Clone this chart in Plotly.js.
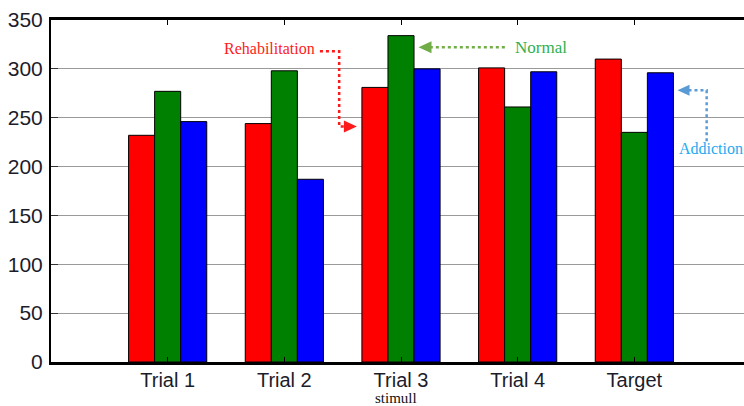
<!DOCTYPE html>
<html>
<head>
<meta charset="utf-8">
<script src="https://cdn.plot.ly/plotly-3.0.1.min.js"></script>
<style>
html,body{margin:0;padding:0;overflow:hidden;background:#fff;}
#chart{width:751px;height:406px;}
</style>
</head>
<body>
<div id="chart"></div>
<script>
// ---- data ----
const categories = ["Trial 1", "Trial 2", "Trial 3", "Trial 4", "Target"];
const rehabilitation = [232, 244, 281, 301, 310];
const normal = [277, 298, 334, 261, 235];
const addiction = [246, 187, 300, 297, 296];
const yTicks = [0, 50, 100, 150, 200, 250, 300, 350];
const xTitle = "stimull";

const xPos = categories.map((c, i) => i + 1);

// geometry helpers (layout)
const W = 751, H = 406, ML = 51, MR = 0, MT = 20, MB = 44;
const XR = [0, 6], YR = [0, 350];
const pxX = (W - ML - MR) / (XR[1] - XR[0]);   // px per x unit
const pxY = (H - MT - MB) / (YR[1] - YR[0]);   // px per y unit
const dx = p => p / pxX;
const dy = p => p / pxY;

const tickFontX = {family: "'Liberation Sans', Arial, sans-serif", size: 20, color: "#1c1c2a"};
const tickFontY = {family: "'Liberation Sans', Arial, sans-serif", size: 21, color: "#1c1c2a"};

const barLine = {color: "#000", width: 1};
const traces = [
  {type: "bar", name: "Rehabilitation", x: xPos, y: rehabilitation, marker: {color: "#ff0000", line: barLine}},
  {type: "bar", name: "Normal", x: xPos, y: normal, marker: {color: "#008000", line: barLine}},
  {type: "bar", name: "Addiction", x: xPos, y: addiction, marker: {color: "#0000ff", line: barLine}}
];

// annotation anchor points (data coords)
const rehabText = {x: 1.875, y: 321};
const normalText = {x: 3.96, y: 322};
const addText = {x: 5.365, y: 218};

function dotted(path, color) {
  return {type: "path", xref: "x", yref: "y", path: path,
          line: {color: color, width: 2.5, dash: "dot"}, layer: "above"};
}
function arrowHead(tipX, tipY, dir, len, half, color) {
  // dir: +1 points right, -1 points left
  const bx = tipX - dir * dx(len);
  const p = `M ${tipX} ${tipY} L ${bx} ${tipY + dy(half)} L ${bx} ${tipY - dy(half)} Z`;
  return {type: "path", xref: "x", yref: "y", path: p,
          fillcolor: color, line: {color: color, width: 0}, layer: "above"};
}

// Rehabilitation arrow: right, down, right
const rA = {x1: 2.305, y1: 318, x2: 2.47, y2: 241, xt: 2.622};
// Normal arrow: leftwards
const nA = {xs: 3.89, y: 322, xt: 3.15};
// Addiction arrow: up then left
const aA = {x: 5.62, ys: 226, y2: 278, xt: 5.37};

const redC = "#ff1a1a", greenArrow = "#70ad47", greenText = "#2fb04f", blueArrow = "#5b9bd5", blueText = "#1eaaf0";

const shapes = [
  dotted(`M ${rA.x1} ${rA.y1} L ${rA.x2} ${rA.y1} L ${rA.x2} ${rA.y2} L ${rA.xt - dx(10)} ${rA.y2}`, redC),
  arrowHead(rA.xt, rA.y2, 1, 13, 6, redC),
  dotted(`M ${nA.xs} ${nA.y} L ${nA.xt + dx(10)} ${nA.y}`, greenArrow),
  arrowHead(nA.xt, nA.y, -1, 13, 6, greenArrow),
  dotted(`M ${aA.x} ${aA.ys} L ${aA.x} ${aA.y2} L ${aA.xt + dx(10)} ${aA.y2}`, blueArrow),
  arrowHead(aA.xt, aA.y2, -1, 12, 5.5, blueArrow)
];

const serif = "'Liberation Serif', 'DejaVu Serif', serif";
const annotations = [
  {x: rehabText.x, y: rehabText.y, xref: "x", yref: "y", text: "Rehabilitation", showarrow: false,
   font: {family: serif, size: 16, color: redC}},
  {x: normalText.x, y: normalText.y, xref: "x", yref: "y", text: "Normal", showarrow: false, xanchor: "left",
   font: {family: serif, size: 17, color: greenText}},
  {x: addText.x, y: addText.y, xref: "x", yref: "y", text: "Addiction", showarrow: false, xanchor: "left",
   font: {family: serif, size: 16, color: blueText}},
  // x-axis title
  {x: 2.957, y: -0.106, xref: "x", yref: "paper", yanchor: "middle", text: xTitle, showarrow: false,
   font: {family: serif, size: 15, color: "#111"}}
];

const layout = {
  width: W, height: H,
  margin: {l: ML, r: MR, t: MT, b: MB, pad: 0},
  paper_bgcolor: "#fff", plot_bgcolor: "#fff",
  showlegend: false,
  barmode: "group", bargap: 0.33, bargroupgap: 0,
  xaxis: {
    range: XR, tickvals: xPos, ticktext: categories,
    showgrid: false, zeroline: false,
    showline: true, linecolor: "#000", linewidth: 3, mirror: "ticks",
    ticks: "inside", ticklen: 5, tickcolor: "#000", tickwidth: 1,
    tickfont: tickFontX, ticklabelstandoff: -2
  },
  yaxis: {
    range: YR, tickvals: yTicks,
    showgrid: true, gridcolor: "#9a9a9a", gridwidth: 1.2,
    zeroline: false,
    showline: true, linecolor: "#000", linewidth: 2, mirror: "ticks",
    ticks: "inside", ticklen: 7, tickcolor: "#333", tickwidth: 1,
    tickfont: tickFontY, ticklabelstandoff: 2
  },
  shapes: shapes,
  annotations: annotations
};

Plotly.newPlot("chart", traces, layout, {staticPlot: true, displayModeBar: false});
</script>
</body>
</html>
